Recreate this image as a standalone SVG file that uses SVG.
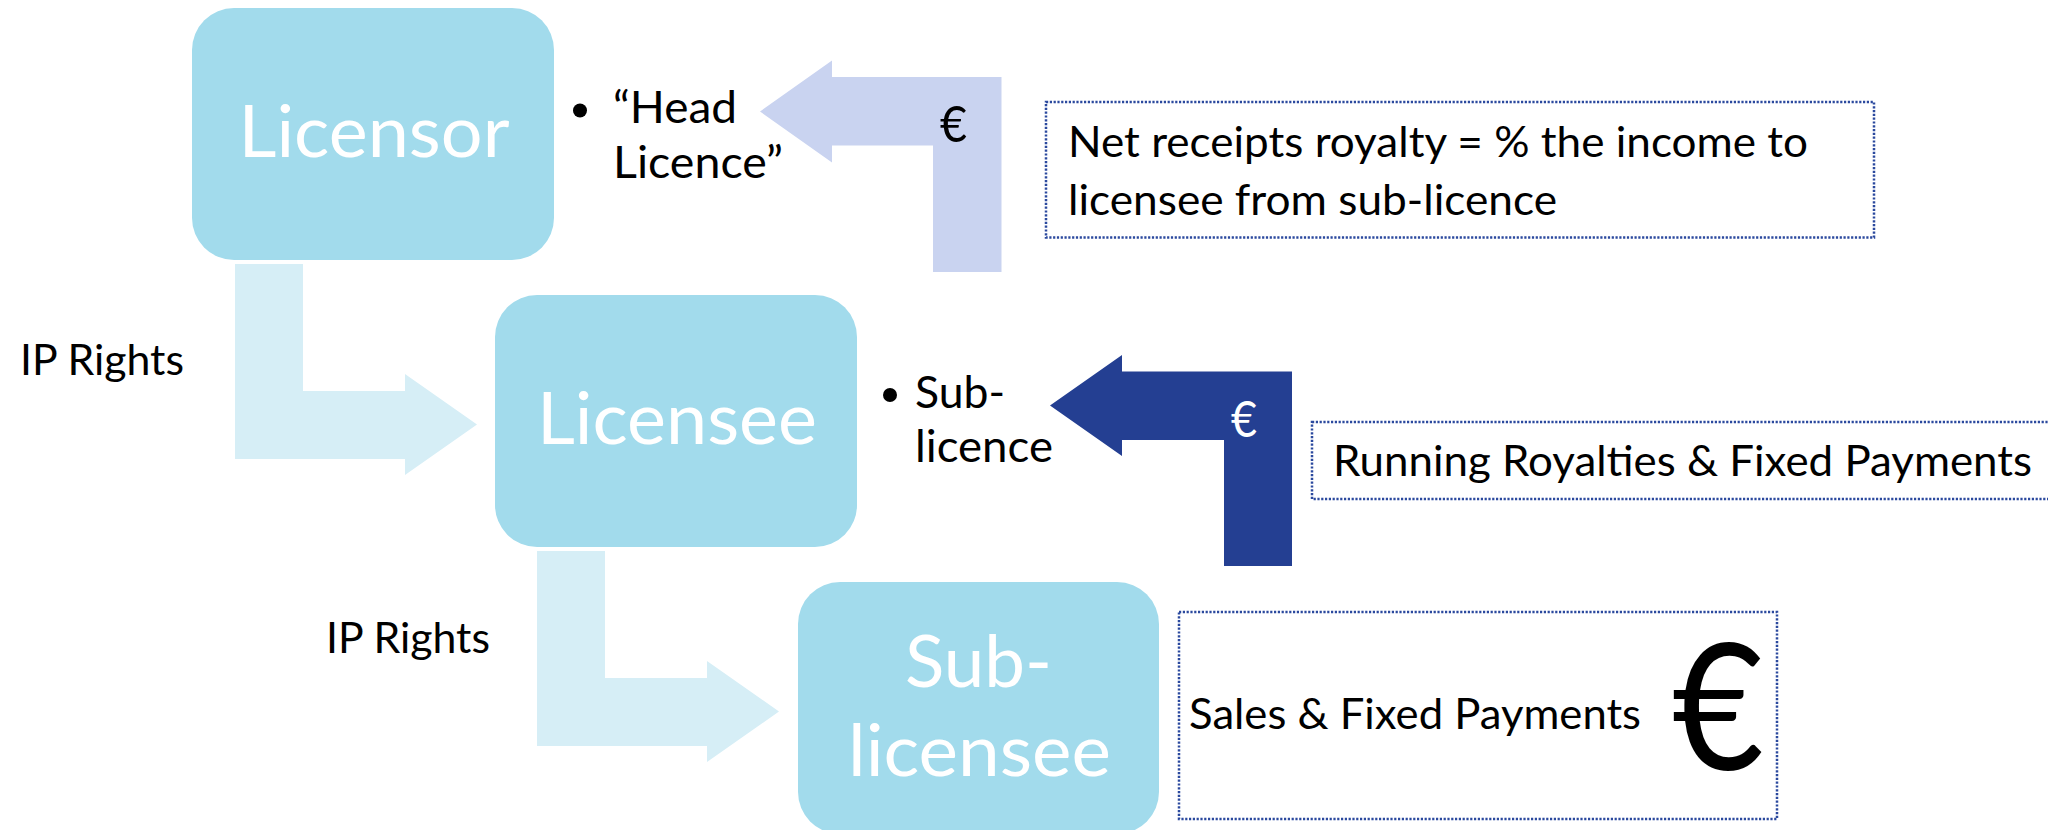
<svg xmlns="http://www.w3.org/2000/svg" width="2048" height="830" viewBox="0 0 2048 830">
  <style>
    text { font-family: Lato, "Open Sans", "Liberation Sans", sans-serif; }
    .box { fill: #A2DBEC; }
    .box-label { fill: #FFFFFF; font-size: 71px; text-anchor: middle; }
    .bullet-text { fill: #000000; font-size: 44px; }
    .note-text { fill: #000000; font-size: 42px; }
    .note { fill: #FFFFFF; stroke: #2B499E; stroke-width: 2.5; stroke-dasharray: 2.2 1.6; }
    .ip-arrow { fill: #D6EEF6; }
    .pay-light { fill: #C9D3F0; }
    .pay-dark { fill: #243F92; }
    .dot { fill: #000000; }
  </style>

  <!-- IP rights and payment arrows -->
  <g id="connectors">
    <polygon class="ip-arrow" points="235,264 303,264 303,391 405,391 405,374 477,424.5 405,475 405,459 235,459"/>
    <polygon class="ip-arrow" points="537,551 605,551 605,678 707,678 707,661 779,711.5 707,762 707,746 537,746"/>
    <polygon class="pay-light" points="760,111.5 832,60.5 832,77 1001.5,77 1001.5,272 933,272 933,145.5 832,145.5 832,162.5"/>
    <polygon class="pay-dark" points="1050,405.5 1122,355 1122,371.5 1292,371.5 1292,566 1224,566 1224,440 1122,440 1122,456"/>
    <text x="940" y="142" font-size="50" fill="#000000" textLength="27" lengthAdjust="spacingAndGlyphs">€</text>
    <text x="1231" y="436.5" font-size="50" fill="#FFFFFF" textLength="26" lengthAdjust="spacingAndGlyphs">€</text>
  </g>

  <g id="licensor">
    <rect class="box" x="192" y="8" width="362" height="252" rx="42" ry="42"/>
    <text class="box-label" x="374" y="157" textLength="271" lengthAdjust="spacingAndGlyphs">Licensor</text>
  </g>

  <g id="licensee">
    <rect class="box" x="495" y="295" width="362" height="252" rx="42" ry="42"/>
    <text class="box-label" x="677" y="444" textLength="280" lengthAdjust="spacingAndGlyphs">Licensee</text>
  </g>

  <g id="sub-licensee">
    <rect class="box" x="798" y="582" width="361" height="252" rx="42" ry="42"/>
    <text class="box-label" x="978.5" y="687" textLength="147" lengthAdjust="spacingAndGlyphs">Sub-</text>
    <text class="box-label" x="979.5" y="776" textLength="263" lengthAdjust="spacingAndGlyphs">licensee</text>
  </g>

  <g id="head-licence">
    <circle class="dot" cx="580" cy="110.5" r="7"/>
    <text class="bullet-text" x="613" y="123" textLength="124" lengthAdjust="spacingAndGlyphs">“Head</text>
    <text class="bullet-text" x="613" y="178" textLength="170" lengthAdjust="spacingAndGlyphs">Licence”</text>
  </g>

  <g id="sub-licence">
    <circle class="dot" cx="890" cy="395" r="7"/>
    <text class="bullet-text" x="915" y="408" textLength="90" lengthAdjust="spacingAndGlyphs">Sub-</text>
    <text class="bullet-text" x="915" y="462" textLength="138" lengthAdjust="spacingAndGlyphs">licence</text>
  </g>

  <g id="ip-rights-1">
    <text class="note-text" x="20" y="375" textLength="164" lengthAdjust="spacingAndGlyphs">IP Rights</text>
  </g>

  <g id="ip-rights-2">
    <text class="note-text" x="326" y="653" textLength="164" lengthAdjust="spacingAndGlyphs">IP Rights</text>
  </g>

  <g id="net-receipts">
    <rect class="note" x="1046" y="102" width="828" height="135.5"/>
    <text class="note-text" x="1068" y="157" textLength="740" lengthAdjust="spacingAndGlyphs">Net receipts royalty = % the income to</text>
    <text class="note-text" x="1068" y="215" textLength="489" lengthAdjust="spacingAndGlyphs">licensee from sub-licence</text>
  </g>

  <g id="running-royalties">
    <rect class="note" x="1312" y="422" width="750" height="77"/>
    <text class="note-text" x="1333" y="476" font-size="43" textLength="699" lengthAdjust="spacingAndGlyphs">Running Royalties &amp; Fixed Payments</text>
  </g>

  <g id="sales">
    <rect class="note" x="1179" y="612" width="598" height="207"/>
    <text class="note-text" x="1189" y="729" font-size="46" textLength="452" lengthAdjust="spacingAndGlyphs">Sales &amp; Fixed Payments</text>
    <text x="1672" y="770" font-size="176" fill="#000000" textLength="92" lengthAdjust="spacingAndGlyphs">€</text>
  </g>
</svg>
